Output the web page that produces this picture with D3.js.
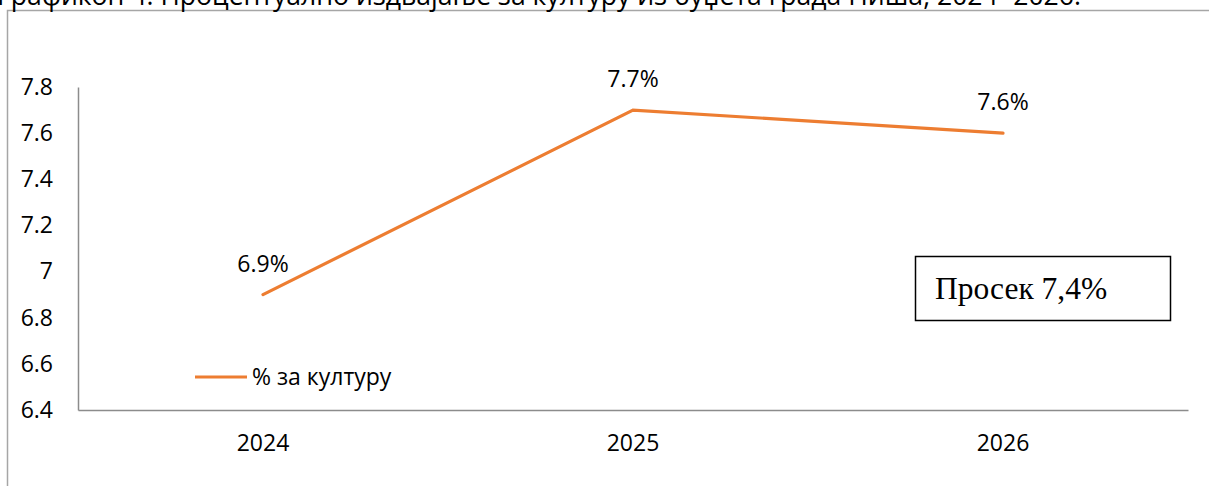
<!DOCTYPE html>
<html>
<head>
<meta charset="utf-8">
<script src="https://cdn.jsdelivr.net/npm/d3@7"></script>
<style>
  html, body { margin: 0; padding: 0; background: #fff; overflow: hidden; }
  svg { display: block; }
  text { font-family: "Open Sans", "Noto Sans", sans-serif; fill: #000; }
</style>
</head>
<body>
<svg id="chart" width="1209" height="486"></svg>
<script>
const titleText = "Графикон 4. Процентуално издвајање за културу из буџета града Ниша, 2024- 2026.";
const years = ["2024", "2025", "2026"];
const shares = [6.9, 7.7, 7.6];
const yTicks = [6.4, 6.6, 6.8, 7, 7.2, 7.4, 7.6, 7.8];
const seriesName = "% за културу";
const averageText = "Просек 7,4%";

const W = 1209, H = 486;
const margin = { top: 87, right: 21, bottom: 76, left: 78 };
const w = W - margin.left - margin.right;
const h = H - margin.top - margin.bottom;
const orange = "#ED7D31";
const axisGrey = "#8c8c8c";
const fs = 23;

const svg = d3.select("#chart");

// outer frame (right/bottom edges fall outside the crop)
svg.append("path")
    .attr("d", `M7.5,${H + 2} V10.5 H${W + 2}`)
    .attr("fill", "none").attr("stroke", "#a6a6a6").attr("stroke-width", 1.5);

// title, cut off by the top edge
svg.append("text")
    .attr("x", -3).attr("y", 5)
    .attr("font-size", 26.6)
    .text(titleText);

const g = svg.append("g").attr("transform", `translate(${margin.left},${margin.top})`);

const x = d3.scaleBand().domain(years).range([0, w]).padding(0);
const y = d3.scaleLinear().domain([d3.min(yTicks), d3.max(yTicks)]).range([h, 0]);
const cx = d => x(d) + x.bandwidth() / 2;

// axes
const xAxis = g.append("g").attr("transform", `translate(0,${h})`)
    .call(d3.axisBottom(x).tickSize(0).tickPadding(25));
xAxis.select(".domain").attr("stroke", axisGrey).attr("stroke-width", 1.5);
xAxis.selectAll("text").attr("font-size", fs);

const yAxis = g.append("g")
    .call(d3.axisLeft(y).tickValues(yTicks).tickSize(0).tickPadding(25).tickFormat(d3.format("~g")));
yAxis.select(".domain").attr("stroke", axisGrey).attr("stroke-width", 1.5);
yAxis.selectAll("text").attr("font-size", fs);

// line
const pts = years.map((yr, i) => ({ yr, v: shares[i] }));
g.append("path")
    .datum(pts)
    .attr("fill", "none")
    .attr("stroke", orange)
    .attr("stroke-width", 3.2)
    .attr("stroke-linecap", "round")
    .attr("d", d3.line().x(d => cx(d.yr)).y(d => y(d.v)));

// data labels
g.selectAll(".lbl")
    .data(pts)
    .enter().append("text")
    .attr("class", "lbl")
    .attr("x", d => cx(d.yr))
    .attr("y", d => y(d.v) - 23)
    .attr("text-anchor", "middle")
    .attr("font-size", fs)
    .text(d => d3.format(".1f")(d.v) + "%");

// legend
const lg = g.append("g").attr("transform", `translate(${195 - margin.left},${377 - margin.top})`);
lg.append("line").attr("x1", 0).attr("x2", 52).attr("y1", 0).attr("y2", 0)
    .attr("stroke", orange).attr("stroke-width", 3.2);
lg.append("text").attr("x", 57).attr("y", 8).attr("font-size", fs).text(seriesName);

// average box
const bx = svg.append("g").attr("transform", "translate(915,256)");
bx.append("rect").attr("x", 0.5).attr("y", 0.5).attr("width", 255).attr("height", 64)
    .attr("fill", "#fff").attr("stroke", "#000").attr("stroke-width", 1.5);
bx.append("text").attr("x", 20).attr("y", 43)
    .style("font-family", "'Liberation Serif', 'Times New Roman', serif")
    .attr("font-size", 31.5).text(averageText);
</script>
</body>
</html>
